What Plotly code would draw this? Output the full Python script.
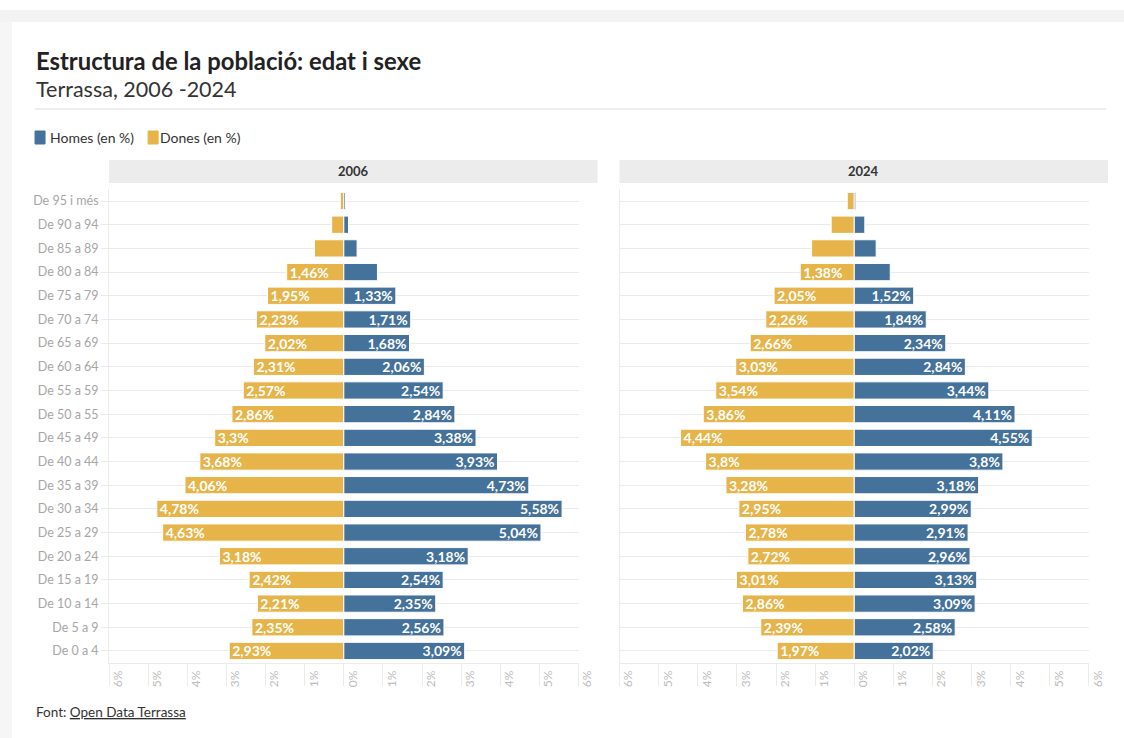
import plotly.graph_objects as go

REF_W, H = 1124, 738
LAYOUT_W = 1141
FONT = "Lato"

ages = ["De 0 a 4", "De 5 a 9", "De 10 a 14", "De 15 a 19", "De 20 a 24",
        "De 25 a 29", "De 30 a 34", "De 35 a 39", "De 40 a 44", "De 45 a 49",
        "De 50 a 55", "De 55 a 59", "De 60 a 64", "De 65 a 69", "De 70 a 74",
        "De 75 a 79", "De 80 a 84", "De 85 a 89", "De 90 a 94", "De 95 i més"]

homes_2006 = [3.09, 2.56, 2.35, 2.54, 3.18, 5.04, 5.58, 4.73, 3.93, 3.38,
              2.84, 2.54, 2.06, 1.68, 1.71, 1.33, 0.86, 0.34, 0.12, 0.04]
dones_2006 = [2.93, 2.35, 2.21, 2.42, 3.18, 4.63, 4.78, 4.06, 3.68, 3.30,
              2.86, 2.57, 2.31, 2.02, 2.23, 1.95, 1.46, 0.75, 0.31, 0.09]
homes_2024 = [2.02, 2.58, 3.09, 3.13, 2.96, 2.91, 2.99, 3.18, 3.80, 4.55,
              4.11, 3.44, 2.84, 2.34, 1.84, 1.52, 0.92, 0.56, 0.27, 0.04]
dones_2024 = [1.97, 2.39, 2.86, 3.01, 2.72, 2.78, 2.95, 3.28, 3.80, 4.44,
              3.86, 3.54, 3.03, 2.66, 2.26, 2.05, 1.38, 1.09, 0.59, 0.18]

tick_vals = [-6, -5, -4, -3, -2, -1, 0, 1, 2, 3, 4, 5, 6]
tick_text = ["6%", "5%", "4%", "3%", "2%", "1%", "0%", "1%", "2%", "3%", "4%", "5%", "6%"]

BLUE = "#45729b"
YELLOW = "#e6b449"


def px(x):
    return min(x / REF_W, 1.0)


def py(y):
    return 1 - y / H


def fmt(v):
    s = ("%.2f" % v).rstrip("0").rstrip(".")
    return s.replace(".", ",") + "%"


def labels(vals):
    return [fmt(v) if v >= 1.3 else "" for v in vals]


fig = go.Figure()


def add_bars(women, men, xa, ya):
    common = dict(orientation="h", y=ages, xaxis=xa, yaxis=ya,
                  textposition="inside", insidetextanchor="end", constraintext="none",
                  textfont=dict(family=FONT, size=14, color="white", weight="bold"),
                  marker_line=dict(color="white", width=1),
                  showlegend=False, hoverinfo="skip", cliponaxis=False)
    fig.add_trace(go.Bar(x=[-v for v in women], text=labels(women),
                         marker_color=YELLOW, name="Dones (en %)", **common))
    fig.add_trace(go.Bar(x=men, text=labels(men),
                         marker_color=BLUE, name="Homes (en %)", **common))


add_bars(dones_2006, homes_2006, "x", "y")
add_bars(dones_2024, homes_2024, "x2", "y2")

GRID = "#ebebeb"
xcommon = dict(range=[-6, 6], tickmode="array", tickvals=tick_vals, ticktext=tick_text,
               ticks="outside", ticklen=22, tickcolor=GRID, tickwidth=1,
               showgrid=False, zeroline=False, showline=True, linecolor=GRID,
               tickangle=-90, tickfont=dict(family=FONT, size=12, color="#bdbdbd"),
               ticklabelstandoff=-20, ticklabelshift=9, fixedrange=True)
ydom = [1 - 662.8 / H, 1 - 189.2 / H]
ycommon = dict(domain=ydom, categoryorder="array", categoryarray=ages,
               range=[-0.5, len(ages) - 0.5],
               showgrid=True, gridcolor=GRID, zeroline=False,
               showline=True, linecolor=GRID, fixedrange=True)

fig.update_layout(
    width=LAYOUT_W, height=H, autosize=False,
    margin=dict(l=0, r=0, t=0, b=0),
    paper_bgcolor="white", plot_bgcolor="rgba(0,0,0,0)",
    barmode="relative", bargap=0.27,
    uniformtext=dict(minsize=14, mode="show"),
    font=dict(family=FONT, color="#333333"),
    xaxis=dict(domain=[px(109), px(578)], anchor="y", **xcommon),
    xaxis2=dict(domain=[px(619), px(1088)], anchor="y2", **xcommon),
    yaxis=dict(anchor="x", ticks="outside", ticklen=7, tickcolor=GRID,
               tickfont=dict(family=FONT, size=12.5, color="#a6a6a6"), **ycommon),
    yaxis2=dict(anchor="x2", showticklabels=False, ticks="", **ycommon),
)

shapes = []
# page frame / shadow
shapes.append(dict(type="rect", xref="paper", yref="paper", x0=0, x1=1, y0=py(22), y1=py(10),
                   fillcolor="#f3f3f3", line_width=0, layer="below"))
shapes.append(dict(type="rect", xref="paper", yref="paper", x0=0, x1=px(12), y0=0, y1=py(22),
                   fillcolor="#f6f6f6", line_width=0, layer="below"))
# separator under title
shapes.append(dict(type="line", xref="paper", yref="paper", x0=px(35), x1=px(1105),
                   y0=py(109), y1=py(109), line=dict(color="#dddddd", width=1)))
# panel header bands
for x0, x1 in [(109, 597), (619, 1107)]:
    shapes.append(dict(type="rect", xref="paper", yref="paper", x0=px(x0), x1=px(x1),
                       y0=py(183), y1=py(160), fillcolor="#ececec", line_width=0, layer="below"))


def legend_square(x0, x1, color):
    return dict(type="rect", xref="paper", yref="paper", x0=px(x0), x1=px(x1),
                y0=py(144), y1=py(131), fillcolor=color, line=dict(color=color, width=1))


shapes.append(legend_square(35, 45, BLUE))
shapes.append(legend_square(148, 158, YELLOW))
fig.update_layout(shapes=shapes)

ann = []
ann.append(dict(text="<b>Estructura de la població: edat i sexe</b>", x=px(34), y=py(61),
                xanchor="left", yanchor="middle", font=dict(size=23.8, color="#222222", family=FONT)))
ann.append(dict(text="Terrassa, 2006 -2024", x=px(34), y=py(89),
                xanchor="left", yanchor="middle", font=dict(size=21.5, color="#333333", family=FONT)))
ann.append(dict(text="Homes (en %)", x=px(48), y=py(137.5),
                xanchor="left", yanchor="middle", font=dict(size=14, color="#333333", family=FONT)))
ann.append(dict(text="Dones (en %)", x=px(158), y=py(137.5),
                xanchor="left", yanchor="middle", font=dict(size=14, color="#333333", family=FONT)))
ann.append(dict(text="<b>2006</b>", x=px(353), y=py(171.5),
                xanchor="center", yanchor="middle", font=dict(size=13, color="#333333", family=FONT)))
ann.append(dict(text="<b>2024</b>", x=px(863), y=py(171.5),
                xanchor="center", yanchor="middle", font=dict(size=13, color="#333333", family=FONT)))
ann.append(dict(text="Font: <u>Open Data Terrassa</u>", x=px(34), y=py(712),
                xanchor="left", yanchor="middle", font=dict(size=13.5, color="#333333", family=FONT)))
for a in ann:
    a.update(xref="paper", yref="paper", showarrow=False)
fig.update_layout(annotations=ann)

fig.write_html("out.html", config={"responsive": False})
